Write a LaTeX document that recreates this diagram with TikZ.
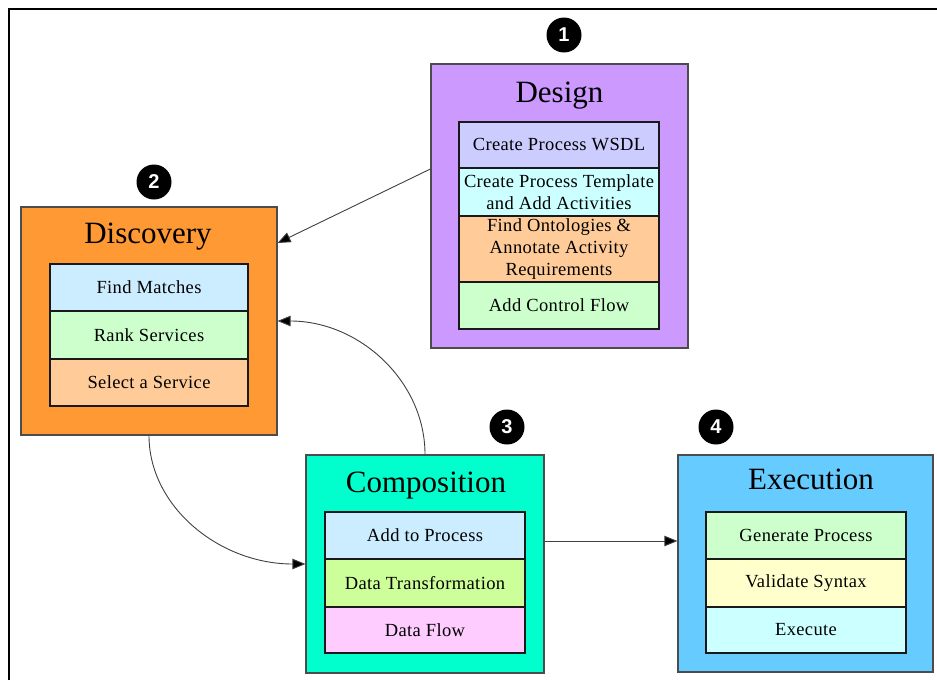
\documentclass[tikz,border=0pt]{standalone}
\usepackage{fontspec}
\setmainfont{Liberation Serif}
\newfontfamily\numfont{Liberation Sans}
\newfontfamily\taskfont[LetterSpace=2.0]{Liberation Serif}
\usetikzlibrary{arrows.meta}

\definecolor{designbg}{HTML}{CC99FF}
\definecolor{discoverybg}{HTML}{FF9933}
\definecolor{compositionbg}{HTML}{00FFCC}
\definecolor{executionbg}{HTML}{66CCFF}
\definecolor{lavender}{HTML}{CCCCFF}
\definecolor{paleblue}{HTML}{CCECFF}
\definecolor{palecyan}{HTML}{CCFFFF}
\definecolor{palegreen}{HTML}{CCFFCC}
\definecolor{limegreen}{HTML}{CCFF99}
\definecolor{peach}{HTML}{FFCC99}
\definecolor{palepink}{HTML}{FFCCFF}
\definecolor{paleyellow}{HTML}{FFFFCC}

\tikzset{
    phase/.style={draw=black!70, line width=1.2pt, inner sep=0pt},
    phasetitle/.style={anchor=base, font=\fontsize{31}{36}\selectfont},
    task/.style={draw=black!90, line width=1.4pt, minimum width=200pt, inner sep=0pt,
        align=center, font=\taskfont\fontsize{18.5}{22}\selectfont},
    badge/.style={circle, fill=black, text=white, minimum size=35pt, inner sep=0pt,
        font=\numfont\bfseries\fontsize{20}{20}\selectfont},
    flow/.style={draw=black!75, line width=0.9pt, -{Triangle[length=13pt,width=10.5pt,fill=black]}}
}

\begin{document}
\begin{tikzpicture}[x=1pt,y=-1pt]
                    \useasboundingbox (0,0) rectangle (937,680);
                    \draw[line width=2.8pt] (9,680) -- (9,9) -- (937,9);

                    \node[phase, fill=designbg, minimum width=257pt, minimum height=284pt] (design) at (559.5,206) {};
                    \node[phase, fill=discoverybg, minimum width=256pt, minimum height=228pt] (discovery) at (149,321) {};
                    \node[phase, fill=compositionbg, minimum width=238pt, minimum height=218pt] (composition) at (425,564) {};
                    \node[phase, fill=executionbg, minimum width=255pt, minimum height=217pt] (execution) at (805.5,563.5) {};

                    \node[task, fill=lavender, minimum height=46pt] (wsdl) at (559,145) {Create Process WSDL};
                    \node[task, fill=palecyan, minimum height=48pt] (template) at (559,192) {Create Process Template\\and Add Activities};
                    \node[task, fill=peach, minimum height=66pt] (ontologies) at (559,249) {Find Ontologies \&\\Annotate Activity\\Requirements};
                    \node[task, fill=palegreen, minimum height=47pt] (control) at (559,305.5) {Add Control Flow};

                    \node[task, fill=paleblue, minimum width=198pt, minimum height=47pt] (matches) at (149,287.5) {Find Matches};
                    \node[task, fill=palegreen, minimum width=198pt, minimum height=48pt] (rank) at (149,335) {Rank Services};
                    \node[task, fill=peach, minimum width=198pt, minimum height=47pt] (select) at (149,382.5) {Select a Service};

                    \node[task, fill=paleblue, minimum height=47pt] (addto) at (425,535.5) {Add to Process};
                    \node[task, fill=limegreen, minimum height=48pt] (transform) at (425,583) {Data Transformation};
                    \node[task, fill=palepink, minimum height=46pt] (dataflow) at (425,630) {Data Flow};

                    \node[task, fill=palegreen, minimum height=47pt] (generate) at (806,535.5) {Generate Process};
                    \node[task, fill=paleyellow, minimum height=48pt] (validate) at (806,583) {Validate Syntax};
                    \node[task, fill=palecyan, minimum height=46pt] (execute) at (806,630) {Execute};

                    \node[phasetitle] (designtitle) at (559.5,102) {Design};
                    \node[phasetitle] (discoverytitle) at (148,243) {Discovery};
                    \node[phasetitle] (compositiontitle) at (426,492) {Composition};
                    \node[phasetitle] (executiontitle) at (811,489) {Execution};

                    \node[badge] (one) at (564,35) {1};
                    \node[badge] (two) at (154,182) {2};
                    \node[badge] (three) at (507,427) {3};
                    \node[badge] (four) at (716,427) {4};

                    \draw[flow] ([yshift=37pt]design.west) -- ([yshift=78pt]discovery.east);
                    \draw[flow] (composition.north) .. controls +(0,-73) and +(82,0) .. (discovery.east);
                    \draw[flow] (discovery.south) .. controls +(0,71) and +(-86,0) .. (composition.west);
                    \draw[flow] ([yshift=23pt]composition.east) -- ([yshift=22.5pt]execution.west);
                \end{tikzpicture}
\end{document}
